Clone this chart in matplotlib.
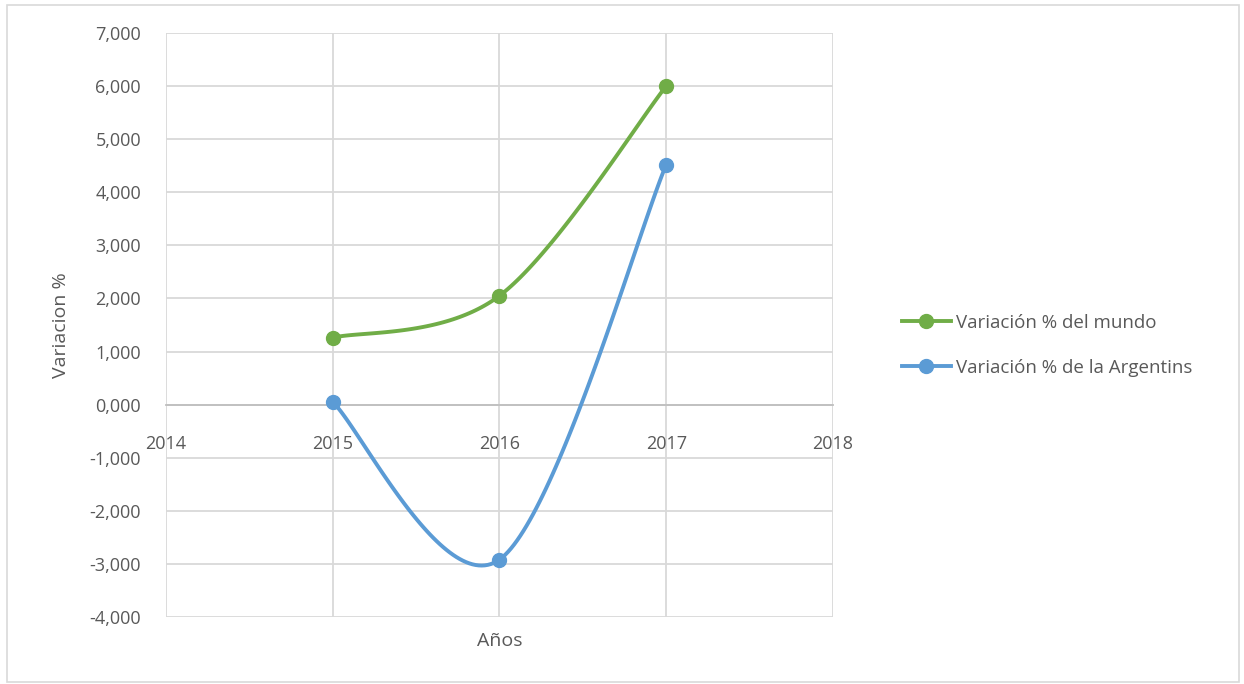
import numpy as np
import matplotlib.pyplot as plt
from matplotlib.patches import Rectangle
from matplotlib.ticker import FuncFormatter

# data
years = [2015, 2016, 2017]
mundo = [1.26, 2.05, 6.00]
argentina = [0.05, -2.92, 4.52]

green = '#70ad47'
blue = '#5b9bd5'
text_col = '#595959'

plt.rcParams['font.family'] = ['Open Sans', 'DejaVu Sans']


def smooth(x, y, n=60):
    # Catmull-Rom style bezier, like Excel's smoothed line
    x = np.asarray(x, float)
    y = np.asarray(y, float)
    px = np.concatenate([[x[0]], x, [x[-1]]])
    py = np.concatenate([[y[0]], y, [y[-1]]])
    xs, ys = [], []
    t = np.linspace(0, 1, n)
    for i in range(1, len(px) - 2):
        p0 = np.array([px[i], py[i]])
        p3 = np.array([px[i + 1], py[i + 1]])
        p1 = p0 + (np.array([px[i + 1], py[i + 1]]) - np.array([px[i - 1], py[i - 1]])) / 6
        p2 = p3 - (np.array([px[i + 2], py[i + 2]]) - np.array([px[i], py[i]])) / 6
        b = ((1 - t) ** 3)[:, None] * p0 + (3 * (1 - t) ** 2 * t)[:, None] * p1 \
            + (3 * (1 - t) * t ** 2)[:, None] * p2 + (t ** 3)[:, None] * p3
        xs.extend(b[:, 0])
        ys.extend(b[:, 1])
    return xs, ys


fig = plt.figure(figsize=(12.44, 6.84), dpi=100)
ax = fig.add_axes([0.1334, 0.098, 0.5362, 0.8538])

for vals, col, lab in [(mundo, green, 'Variación % del mundo'),
                       (argentina, blue, 'Variación % de la Argentins')]:
    sx, sy = smooth(years, vals)
    ax.plot(sx, sy, color=col, linewidth=2.8, solid_capstyle='round', zorder=3)
    ax.plot(years, vals, 'o', color=col, markersize=10, zorder=4)
    ax.plot([], [], color=col, linewidth=2.8, marker='o', markersize=10, label=lab)

ax.set_xlim(2014, 2018)
ax.set_ylim(-4, 7)
ax.set_xticks(range(2014, 2019))
ax.set_yticks(range(-4, 8))
ax.yaxis.set_major_formatter(FuncFormatter(lambda v, p: f'{v:.3f}'.replace('.', ',')))

ax.grid(True, color='#d9d9d9', linewidth=1.3)
ax.set_axisbelow(True)
for s in ['top', 'right', 'left']:
    ax.spines[s].set_visible(False)
ax.spines['bottom'].set_position(('data', 0))
ax.spines['bottom'].set_color('#bfbfbf')
ax.spines['bottom'].set_linewidth(1.3)
ax.tick_params(axis='both', length=0, labelsize=13, labelcolor=text_col)
ax.tick_params(axis='x', pad=22)
ax.tick_params(axis='y', pad=18)

ax.set_ylabel('Variacion %', fontsize=14, color=text_col, labelpad=14)
ax.set_xlabel('Años', fontsize=14, color=text_col, labelpad=0)
ax.xaxis.set_label_coords(0.5, -0.025)

ax.legend(loc='center left', bbox_to_anchor=(1.078, 0.465), frameon=False,
          fontsize=13.5, labelcolor=text_col, handlelength=2.6, handletextpad=0.3,
          labelspacing=1.45)

fig.patches.append(Rectangle((0.006, 0.003), 0.99, 0.99, transform=fig.transFigure,
                             fill=False, edgecolor='#d9d9d9', linewidth=1.2))

fig.savefig('out.png', dpi=100)
